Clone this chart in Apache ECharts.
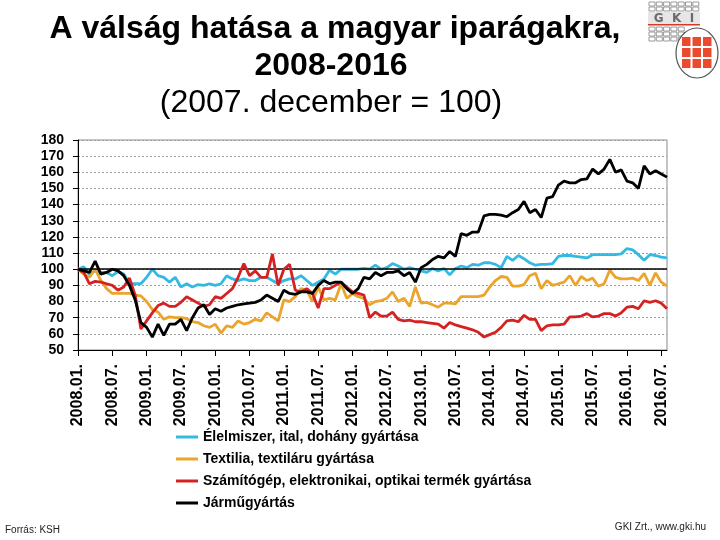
<!DOCTYPE html>
<html>
<head>
<meta charset="utf-8">
<script src="https://cdn.jsdelivr.net/npm/echarts@6/dist/echarts.min.js"></script>
<style>html,body{margin:0;padding:0;background:#fff}#c{width:720px;height:540px}</style>
</head>
<body>
<div id="c"></div>
<script>
const categories = [
'2008.01.','2008.02.','2008.03.','2008.04.','2008.05.','2008.06.','2008.07.','2008.08.','2008.09.','2008.10.','2008.11.','2008.12.',
'2009.01.','2009.02.','2009.03.','2009.04.','2009.05.','2009.06.','2009.07.','2009.08.','2009.09.','2009.10.','2009.11.','2009.12.',
'2010.01.','2010.02.','2010.03.','2010.04.','2010.05.','2010.06.','2010.07.','2010.08.','2010.09.','2010.10.','2010.11.','2010.12.',
'2011.01.','2011.02.','2011.03.','2011.04.','2011.05.','2011.06.','2011.07.','2011.08.','2011.09.','2011.10.','2011.11.','2011.12.',
'2012.01.','2012.02.','2012.03.','2012.04.','2012.05.','2012.06.','2012.07.','2012.08.','2012.09.','2012.10.','2012.11.','2012.12.',
'2013.01.','2013.02.','2013.03.','2013.04.','2013.05.','2013.06.','2013.07.','2013.08.','2013.09.','2013.10.','2013.11.','2013.12.',
'2014.01.','2014.02.','2014.03.','2014.04.','2014.05.','2014.06.','2014.07.','2014.08.','2014.09.','2014.10.','2014.11.','2014.12.',
'2015.01.','2015.02.','2015.03.','2015.04.','2015.05.','2015.06.','2015.07.','2015.08.','2015.09.','2015.10.','2015.11.','2015.12.',
'2016.01.','2016.02.','2016.03.','2016.04.','2016.05.','2016.06.','2016.07.','2016.08.'
];

const seriesNames = [
'Élelmiszer, ital, dohány gyártása',
'Textilia, textiláru gyártása',
'Számítógép, elektronikai, optikai termék gyártása',
'Járműgyártás'
];

const food = [100,101.5,97,99,98,98,96,98.5,97,91, 91,91,95,100,96,95,92,95,89,91,
89,90.5,90,91,90,91,96,94,93,94, 93,93,95,95,93,91,93,94,94,96,
93,90,92,94,99.5,97,100,100,100,100, 100.5,100,102.5,100,101,103.5,102,100,101,100,
99,98,100.5,99,100.5,96.5,100.5,102,101,103, 102.5,104,104,103,101,108,105.5,108.5,106.5,104,
102.5,103,103,103.5,108,108.5,108.5,108,107.5,107, 109,109,109,109,109,109.5,112.8,112,109,105.5,
109,108.5,107.5,107];

const textile = [100,97,95,100,93,88,85,85,85,85, 84,83.5,80,75,73.5,69,70.5,70,70,69.5,
67.5,67,65,64,66,60.5,65,64,68,66, 67,69,68,73,70.5,68,81,80,83,88,
87,80,89,81,82,81,91,82,85,83, 82,78,80,80.5,82,86,80,82,77,89,
79,79.5,78,76.5,79,79,78.5,83,83,83, 83,84,89,93,95.5,95,89.5,89.5,90.5,96,
97.5,88,93,90,91,92,96,90,95.5,93, 94.5,89.5,91,99.5,95,94,94,94.5,93,97.5,
90,97.7,92,89.5];

const electronics = [100,98,91,92.5,92,91,90,87,89,94.5, 84,63,68,73,77.5,79,77,77,79.5,83,
81,79,77,78,83,82,85,88,95,103.5, 96,99,95,95,109.5,90,100,103,87,86,
88,85,76,88,88,90,92,89,86,85, 84,70,73.5,71,71,73.5,69,68,68.5,67.5,
67.5,67,66.5,66,63.5,67,65.5,64.5,63.5,62.5, 61,58,59.5,61,64,68,68.5,67.5,71.5,69,
69,62,65,65.5,65.5,66,70.5,70.5,71,72.5, 70.5,71,72.5,72.5,71,73,76.5,77,75.5,80.5,
79.5,80.5,79,75.5];

const vehicles = [100,99,98,105,97,98,100,99,96,90, 81,67,64,58,66,59,66,66,69,62,
70,76,78,72,75.5,74,76,77,78,78.5, 79,79.5,81,84,82,80,87,85,84.5,86,
86,85,90,93,91,92,92,88,85,88, 95,94,98,96,98,98,99,96,98,92,
101,103,106,108,107,111,108,122,121,123, 123,133,134,134,133.5,132.5,135,137,142,135,
137,132,144,145,152,154.5,153.5,153.5,155.5,156, 162,159,162,168,160,161.5,154.5,153.5,150,164,
159,161,159,157];

const yMin = 50, yMax = 180, yStep = 10;
const baseValue = 100;

const colors = ['#34B9E2', '#EBA42C', '#D42222', '#000000'];
const FF = '"Liberation Sans", Arial, sans-serif';

const chart = echarts.init(document.getElementById('c'), null, {renderer: 'canvas'});

// decorative logo (GKI)
const logo = [];
for (let r = 0; r < 2; r++) {
  for (let c = 0; c < 7; c++) {
    logo.push({type: 'rect', shape: {x: 649 + c * 7.3, y: 2 + r * 5, width: 6, height: 4},
      style: {fill: '#fff', stroke: '#9a9a9a', lineWidth: 1}});
  }
}
for (let r = 0; r < 3; r++) {
  for (let c = 0; c < 5; c++) {
    logo.push({type: 'rect', shape: {x: 649 + c * 7.3, y: 27 + r * 5, width: 6, height: 4},
      style: {fill: '#fff', stroke: '#9a9a9a', lineWidth: 1}});
  }
}
logo.push({type: 'rect', shape: {x: 648, y: 12, width: 52, height: 12}, style: {fill: '#e6e6e6'}});
logo.push({type: 'text', style: {text: 'G  K  I', x: 674, y: 18.5, align: 'center', verticalAlign: 'middle',
  font: 'bold 12px "DejaVu Sans", sans-serif', fill: '#6a6a6a'}});
logo.push({type: 'rect', shape: {x: 648, y: 24, width: 52, height: 1.5}, style: {fill: '#d23a2a'}});
logo.push({type: 'ellipse', shape: {cx: 697, cy: 53, rx: 21, ry: 25}, style: {fill: '#fff', stroke: '#555', lineWidth: 1.2}});
for (let r = 0; r < 3; r++) {
  for (let c = 0; c < 3; c++) {
    logo.push({type: 'rect', shape: {x: 682 + c * 10.5, y: 37 + r * 11, width: 8.5, height: 9},
      style: {fill: '#EA4A2E'}});
  }
}

const graphics = [
  {type: 'text', style: {text: 'A válság hatása a magyar iparágakra,', x: 335, y: 29, align: 'center', verticalAlign: 'middle',
    font: 'bold 32px ' + FF, fill: '#000'}},
  {type: 'text', style: {text: '2008-2016', x: 331, y: 66, align: 'center', verticalAlign: 'middle',
    font: 'bold 32px ' + FF, fill: '#000'}},
  {type: 'text', style: {text: '(2007. december = 100)', x: 331, y: 103, align: 'center', verticalAlign: 'middle',
    font: '32px ' + FF, fill: '#000'}},
  {type: 'text', style: {text: 'Forrás: KSH', x: 5, y: 530, align: 'left', verticalAlign: 'middle',
    font: '10px ' + FF, fill: '#222'}},
  {type: 'text', style: {text: 'GKI Zrt., www.gki.hu', x: 706, y: 527, align: 'right', verticalAlign: 'middle',
    font: '10px ' + FF, fill: '#222'}}
].concat(logo);

const dataSets = [food, textile, electronics, vehicles];
const series = dataSets.map((d, i) => {
  const s = {
    name: seriesNames[i], type: 'line', data: d, symbol: 'none', showSymbol: false,
    color: colors[i],
    lineStyle: {width: 2.8, color: colors[i]},
    itemStyle: {color: colors[i]},
    z: 3 + i
  };
  if (i === 0) {
    s.markLine = {silent: true, symbol: 'none', label: {show: false},
      lineStyle: {color: '#000', width: 1.5, type: 'solid'}, data: [{yAxis: baseValue}]};
  }
  return s;
});

chart.setOption({
  animation: false,
  backgroundColor: '#fff',
  grid: {left: 78, right: 53, top: 140, bottom: 190, show: true, borderColor: '#8a8a8a', borderWidth: 1},
  legend: {
    data: seriesNames, orient: 'vertical', left: 176, top: 430, padding: 0, icon: 'rect',
    itemWidth: 22, itemHeight: 3, itemGap: 8, itemTextGap: 2, selectedMode: false,
    textStyle: {fontSize: 14, fontWeight: 'bold', color: '#000', fontFamily: FF}
  },
  xAxis: {
    type: 'category', data: categories, boundaryGap: false,
    axisLine: {lineStyle: {color: '#000', width: 1}},
    axisTick: {show: true, interval: 5, length: 6, lineStyle: {color: '#000'}},
    axisLabel: {interval: 5, rotate: 90, fontSize: 16, fontWeight: 'bold', color: '#000', fontFamily: FF, margin: 14},
    splitLine: {show: false}
  },
  yAxis: {
    type: 'value', min: yMin, max: yMax, interval: yStep,
    axisLine: {show: true, lineStyle: {color: '#000', width: 1}},
    axisTick: {show: true, length: 5, lineStyle: {color: '#000'}},
    axisLabel: {fontSize: 14, fontWeight: 'bold', color: '#000', fontFamily: FF, margin: 14},
    splitLine: {show: true, lineStyle: {color: '#a0a0a0', type: [2, 2], width: 1}}
  },
  graphic: graphics,
  series: series
});
</script>
</body>
</html>
